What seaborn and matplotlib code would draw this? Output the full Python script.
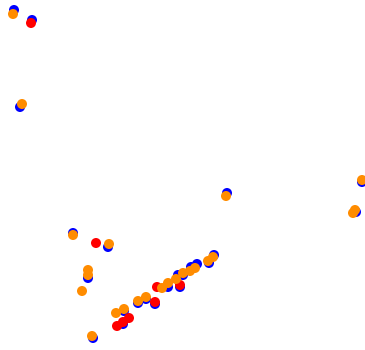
import matplotlib
matplotlib.use("Agg")
import matplotlib.pyplot as plt
import seaborn as sns
import pandas as pd

# values (x to the right, y downward)
blue_x = [14, 32, 20, 73, 108, 88, 214, 209, 197, 191, 183, 178, 180, 168, 146, 138, 155, 124, 123, 93, 227, 362, 356]
blue_y = [10, 20, 107, 233, 247, 278, 255, 263, 264, 267, 275, 275, 287, 287, 299, 303, 304, 311, 324, 338, 193, 182, 212]

red_x = [31, 96, 180, 157, 155, 129, 123, 117]
red_y = [23, 243, 285, 287, 302, 318, 322, 326]

orange_x = [13, 22, 73, 109, 88, 88, 82, 213, 208, 195, 190, 183, 176, 168, 162, 146, 138, 116, 124, 92, 226, 362, 355, 353]
orange_y = [14, 104, 235, 244, 270, 275, 291, 257, 261, 268, 271, 273, 279, 283, 288, 297, 301, 313, 309, 336, 196, 180, 210, 213]

series = ["blue", "red", "orange"]
colors = ["#0000ff", "#ff0000", "#ff8c00"]

df = pd.concat([
    pd.DataFrame({"x": blue_x, "y": blue_y, "s": "blue"}),
    pd.DataFrame({"x": red_x, "y": red_y, "s": "red"}),
    pd.DataFrame({"x": orange_x, "y": orange_y, "s": "orange"}),
], ignore_index=True)

sns.set_style("white")
fig = plt.figure(figsize=(3.65, 3.5), dpi=100)
ax = fig.add_axes([0, 0, 1, 1])
sns.scatterplot(data=df, x="x", y="y", hue="s", hue_order=series,
                palette=dict(zip(series, colors)), s=52, linewidth=0,
                legend=False, ax=ax)
ax.set_xlim(0, 365)
ax.set_ylim(350, 0)
ax.axis("off")
fig.savefig("out.png", dpi=100)
